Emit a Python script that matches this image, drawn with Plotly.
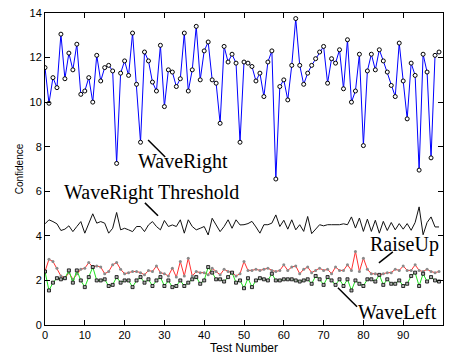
import plotly.graph_objects as go

test_number = list(range(100))

wave_right = [11.55, 9.95, 11.1, 10.65, 13.05, 11.05, 12.2, 11.45, 12.6, 10.35,
              10.5, 11.1, 10.0, 12.1, 10.95, 11.55, 11.65, 11.4, 7.25, 11.3,
              11.85, 11.2, 13.1, 10.8, 8.2, 12.25, 11.85, 10.9, 10.5, 12.55,
              9.8, 11.45, 11.35, 10.7, 11.05, 13.1, 10.5, 11.45, 13.4, 11.0,
              12.3, 12.7, 11.0, 10.85, 9.05, 12.5, 11.8, 12.15, 11.75, 8.2,
              11.8, 11.75, 11.6, 10.95, 11.3, 10.25, 11.8, 12.3, 6.55, 10.7,
              11.0, 10.1, 11.65, 13.75, 11.65, 10.8, 11.3, 11.65, 11.95, 12.25,
              12.5, 10.85, 11.95, 11.75, 12.35, 10.6, 12.8, 10.0, 10.5, 12.15,
              8.05, 11.4, 12.15, 11.45, 12.35, 11.85, 11.35, 10.75, 10.25, 12.65,
              10.95, 9.25, 11.75, 11.2, 6.95, 12.15, 11.35, 7.5, 12.1, 12.25]

threshold = [4.54, 4.72, 4.64, 4.54, 4.24, 4.3, 4.45, 4.19, 4.42, 4.64,
             4.12, 4.6, 4.99, 4.57, 4.64, 4.57, 4.12, 4.34, 5.05, 4.27,
             4.34, 4.27, 4.19, 4.42, 4.42, 4.19, 4.49, 4.64, 4.42, 4.27,
             4.69, 4.42, 4.49, 4.42, 4.72, 4.12, 4.72, 4.42, 4.27, 4.34,
             4.42, 4.04, 4.79, 4.49, 4.19, 4.42, 4.72, 4.34, 4.72, 4.49,
             4.5, 4.55, 4.65, 4.4, 4.12, 4.5, 4.5, 4.57, 4.94, 4.42,
             4.7, 4.3, 4.72, 4.27, 4.5, 4.2, 4.87, 4.1, 4.3, 4.5,
             4.45, 4.5, 4.5, 4.5, 4.5, 4.54, 4.5, 4.85, 4.35, 4.8,
             4.2, 4.75, 4.2, 4.7, 4.12, 4.65, 4.24, 4.6, 4.27, 4.55,
             4.3, 4.55, 4.25, 4.6, 5.3, 4.05, 4.6, 4.85, 4.4, 4.4]

raise_up = [2.4, 2.95, 2.85, 2.55, 2.2, 2.1, 2.35, 2.05, 2.3, 2.5,
            2.55, 2.8, 2.6, 2.65, 2.6, 2.3, 2.4, 2.7, 2.8, 2.5,
            2.3, 2.35, 2.4, 2.4, 2.35, 2.25, 2.45, 2.4, 2.65, 2.35,
            2.3, 2.2, 2.55, 2.15, 2.85, 2.2, 3.0, 2.2, 2.4, 2.35,
            2.35, 2.25, 2.55, 2.4, 2.25, 2.5, 2.4, 2.35, 2.2, 2.3,
            2.85, 2.45, 2.45, 2.5, 2.45, 2.5, 2.55, 2.45, 2.4, 2.45,
            2.7, 2.45, 2.6, 2.65, 2.3, 2.5, 2.6, 2.35, 2.45, 2.55,
            2.45, 2.5, 2.3, 2.6, 2.45, 2.45, 2.7, 2.45, 3.3, 2.4,
            3.0, 2.5, 2.3, 2.3, 2.25, 2.3, 2.35, 2.35, 2.5, 2.45,
            2.65, 2.45, 2.45, 2.7, 2.45, 2.4, 2.5, 2.4, 2.35, 2.4]

wave_left = [2.4, 1.55, 1.9, 2.1, 2.05, 2.1, 2.45, 1.9, 2.45, 2.0,
             1.7, 2.15, 2.6, 2.0, 2.0, 2.05, 1.75, 1.8, 2.15, 1.9,
             2.0, 2.0, 1.7, 2.0, 2.15, 1.9, 2.05, 1.75, 2.0, 2.15,
             1.75, 2.0, 1.7, 1.75, 2.0, 1.75, 1.9, 2.05, 2.15, 1.85,
             2.0, 2.6, 2.35, 2.05, 2.05, 1.95, 2.15, 2.35, 1.9, 2.0,
             1.65, 2.1, 1.7, 2.0, 2.1, 2.05, 2.0, 2.3, 2.0, 2.0,
             2.05, 2.05, 2.05, 2.0, 1.95, 2.0, 2.05, 1.85, 2.2, 2.05,
             1.8, 2.15, 2.0, 1.8, 2.05, 1.75, 2.05, 1.55, 2.0, 1.85,
             1.75, 2.05, 2.05, 1.95, 2.25, 1.8, 2.05, 1.85, 1.85, 2.0,
             1.75, 1.85, 2.2, 2.35, 1.75, 2.3, 1.95, 2.15, 2.0, 1.95]

x_ticks = list(range(0, 101, 10))
y_ticks = list(range(0, 15, 2))

fig = go.Figure()

fig.add_trace(go.Scatter(x=test_number, y=threshold, mode="lines",
                         line=dict(color="#111111", width=1), name="WaveRight Threshold"))
fig.add_trace(go.Scatter(x=test_number, y=raise_up, mode="lines+markers",
                         line=dict(color="#ff3030", width=1),
                         marker=dict(symbol="circle", size=3, color="#8a8a8a",
                                     line=dict(width=0)),
                         name="RaiseUp"))
fig.add_trace(go.Scatter(x=test_number, y=wave_left, mode="lines+markers",
                         line=dict(color="#20e020", width=1),
                         marker=dict(symbol="square", size=3, color="#b0b0b0",
                                     line=dict(color="#000000", width=0.8)),
                         name="WaveLeft"))
fig.add_trace(go.Scatter(x=test_number, y=wave_right, mode="lines+markers",
                         line=dict(color="#0000ff", width=1),
                         marker=dict(symbol="circle", size=4, color="white",
                                     line=dict(color="#000000", width=1)),
                         name="WaveRight"))

serif = dict(family="Liberation Serif, Times New Roman, serif", size=20, color="black")

annotations = [
    dict(x=34.7, y=7.32, text="WaveRight"),
    dict(x=26.8, y=5.93, text="WaveRight Threshold"),
    dict(x=90.2, y=3.6, text="RaiseUp"),
    dict(x=88.6, y=0.59, text="WaveLeft"),
]
for a in annotations:
    fig.add_annotation(x=a["x"], y=a["y"], text=a["text"], showarrow=False,
                       xref="x", yref="y", font=serif, xanchor="center", yanchor="middle")

pointer_lines = [
    (25.9, 8.3, 30.2, 7.54),
    (25.1, 5.48, 28.4, 4.9),
    (83.9, 2.79, 87.4, 3.28),
    (73.6, 1.67, 78.4, 0.82),
]
for x0, y0, x1, y1 in pointer_lines:
    fig.add_shape(type="line", x0=x0, y0=y0, x1=x1, y1=y1, xref="x", yref="y",
                  line=dict(color="black", width=1.5))

sans = "Liberation Sans, Arial, sans-serif"
axis_common = dict(showline=True, linecolor="black", linewidth=1, mirror="ticks",
                   ticks="inside", ticklen=5, tickcolor="black", showgrid=False,
                   zeroline=False, automargin=False,
                   tickfont=dict(family=sans, size=11, color="black"))

fig.update_layout(
    width=451, height=360,
    margin=dict(l=45, r=8, t=13, b=35),
    paper_bgcolor="white", plot_bgcolor="white",
    showlegend=False,
    xaxis=dict(range=[0, 100], tickvals=x_ticks,
               title=dict(text="Test Number", standoff=2,
                          font=dict(family=sans, size=12, color="black")),
               **axis_common),
    yaxis=dict(range=[0, 14], tickvals=y_ticks,
               title=dict(text="Confidence", standoff=4,
                          font=dict(family=sans, size=10, color="black")),
               **axis_common),
)

fig.write_html("out.html", config={"displayModeBar": False},
               post_script="document.body.style.margin='0px';document.body.style.overflow='hidden';")
